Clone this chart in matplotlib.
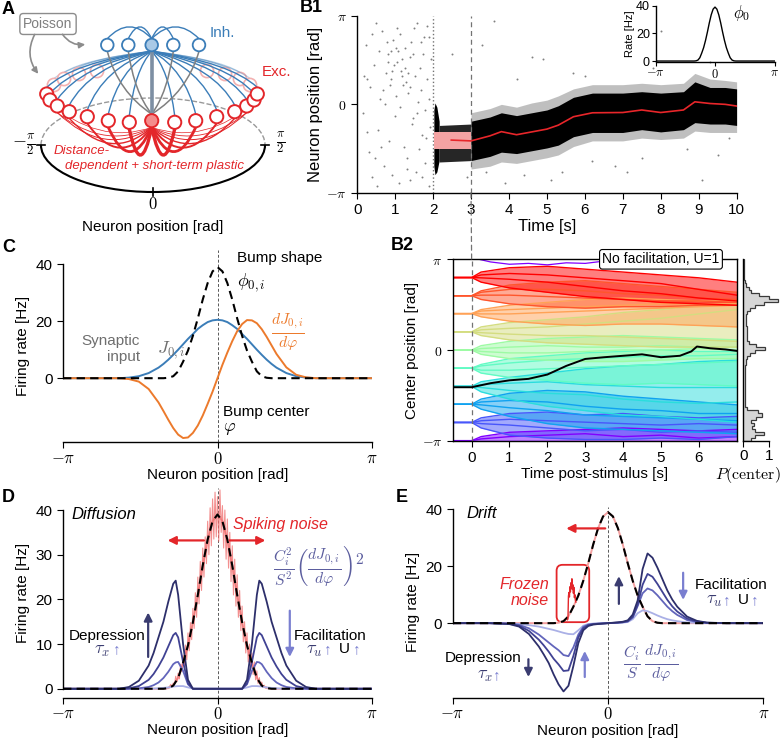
import numpy as np
import matplotlib.pyplot as plt
from matplotlib.patches import Circle, Arc, FancyBboxPatch, Rectangle, PathPatch, ConnectionPatch
from matplotlib.path import Path

plt.rcParams['font.family'] = ['Liberation Sans', 'DejaVu Sans']
plt.rcParams['mathtext.fontset'] = 'cm'
plt.rcParams['font.size'] = 11
plt.rcParams['axes.linewidth'] = 1.0
plt.rcParams['xtick.major.size'] = 4
plt.rcParams['ytick.major.size'] = 4

PI = np.pi
RED = '#e3262a'
BLUE = '#3b7db8'
ORANGE = '#ec7a2c'
PINK = '#f4a0a0'
SLATE = '#5b5d9e'
NAVY = '#2d2f6b'
LAV = '#7a7fd0'

# ---------------- data ----------------
# panel A: node positions of the ring schematic (pixel units of panel A)
inh_x = [107.3, 128.3, 151.7, 173.3, 199.0]
inh_y = [45, 45, 45, 45, 45]
exc_x = [46.7, 50.0, 57.3, 69.3, 87.3, 108.3, 129.3, 151.7, 174.7, 195.7, 216.7, 234.7, 246.7, 254.0, 257.3]
exc_y = [94, 100, 106, 111.7, 116.7, 120.7, 122.3, 120.7, 122.3, 120.7, 116.7, 111.7, 106, 100, 94]
back_x = [54, 64, 79, 97, 207, 225, 240, 250]
back_y = [85, 79, 74, 71, 71, 74, 79, 85]

# B1 raster
bg_t = [0.15, 0.22, 0.3, 0.35, 0.4, 0.45, 0.5, 0.55, 0.6, 0.65, 0.7, 0.75, 0.8, 0.85, 0.9, 0.95, 1.0, 1.05,
        1.1, 1.15, 1.2, 1.25, 1.3, 1.35, 1.4, 1.45, 1.5, 1.55, 1.6, 1.65, 1.7, 1.75, 1.8, 1.85, 1.9, 1.95,
        0.18, 0.27, 0.38, 0.48, 0.58, 0.68, 0.78, 0.82, 0.88, 0.93, 0.98, 1.03, 1.08, 1.12, 1.18, 1.23, 1.28,
        1.33, 1.38, 1.43, 1.48, 1.53, 1.58, 1.63, 1.68, 1.73, 1.78, 1.83, 1.88, 1.93,
        0.25, 0.52, 0.73, 0.91, 1.06, 1.17, 1.32, 1.47, 1.67, 1.81, 0.62, 0.86, 1.01, 1.14, 1.26, 1.4, 1.57,
        1.72, 1.9,
        2.5, 2.9, 3.3, 3.6, 3.9, 4.2, 4.6, 4.9, 5.1, 5.4, 5.7, 6.2, 6.8, 7.1, 7.5, 8.0, 8.7, 9.1, 9.5, 9.8,
        3.4, 4.4, 6.0, 7.8, 9.3]
bg_pos = [-0.3, 2.1, -1.7, 0.6, -2.6, 1.4, 2.9, -0.9, 0.2, 2.6, -2.2, 1.1, 1.8, -1.3, 0.9, 2.3, -0.4, 1.5,
          -2.8, 1.2, 0.7, 2.0, -1.9, 0.4, 1.7, -0.7, 2.7, -2.4, 0.1, 1.3, -1.1, 2.4, -0.2, 0.9, -2.9, 1.6,
          1.0, -1.0, 2.5, -1.9, 1.9, 0.5, 2.2, 1.5, 1.9, -2.5, 1.4, 0.3, 1.9, 2.5, 1.6, -1.5, 0.8,
          1.1, -2.7, 2.2, -0.5, 1.0, 2.9, -1.6, 0.5, 1.8, -2.1, 2.8, 0.2, -0.8,
          0.9, -2.9, 0.0, 1.2, 2.7, 1.0, -2.3, 1.8, 2.2, -1.2, -1.5, 0.7, 2.0, -0.1, 1.3, 0.6, -0.3,
          -2.6, 2.4,
          1.8, -2.6, 2.1, 2.95, -2.8, 0.9, 1.7, 1.6, -2.7, -2.4, 1.1, -2.0, -2.2, -2.4, -1.9, 2.6, -1.6, -2.7,
          -1.8, -1.2,
          -2.4, -2.5, 1.0, 1.3, 1.5]
burst_t = [2.02, 2.05, 2.1, 2.16]
burst_top = [-0.2, 0.05, -0.1, -0.6]
burst_bot = [-2.2, -2.5, -2.4, -2.0]
delay_t = [2.16, 3.0]
delay_top = [-0.75, -0.7]
delay_bot = [-2.05, -2.0]
t_band = [3.0, 3.5, 3.8, 4.2, 4.6, 5.0, 5.3, 5.7, 6.2, 7.0, 7.5, 8.0, 8.6, 8.9, 9.3, 9.7, 10.0]
core_top = [-0.6, -0.45, -0.3, -0.4, -0.3, -0.2, -0.05, 0.25, 0.4, 0.4, 0.45, 0.4, 0.45, 0.8, 0.6, 0.6, 0.55]
core_bot = [-2.0, -1.85, -1.7, -1.75, -1.65, -1.55, -1.45, -1.15, -1.0, -1.0, -0.9, -0.98, -0.9, -0.65, -0.7, -0.7, -0.75]
halo_top = [-0.3, -0.15, 0.0, -0.1, 0.05, 0.15, 0.3, 0.55, 0.7, 0.7, 0.75, 0.7, 0.75, 1.1, 0.9, 0.85, 0.8]
halo_bot = [-2.3, -2.2, -2.05, -2.1, -2.0, -1.9, -1.8, -1.5, -1.3, -1.3, -1.2, -1.25, -1.2, -0.95, -1.0, -1.0, -1.0]
t_red = [2.48, 3.0, 3.5, 3.8, 4.2, 4.6, 5.0, 5.3, 5.7, 6.2, 7.0, 7.5, 8.0, 8.6, 8.9, 9.3, 9.7, 10.0]
red_pos = [-1.27, -1.30, -1.12, -0.97, -1.08, -0.98, -0.88, -0.74, -0.44, -0.30, -0.29, -0.20, -0.29, -0.20,
           0.09, 0.03, 0.0, -0.06]

# rate profiles on a common position grid (C, D, E, inset)
pos_c = [-3.14, -2.4, -2.0, -1.8, -1.6, -1.4, -1.2, -1.1, -1.0, -0.9, -0.8, -0.7, -0.6, -0.5, -0.4, -0.3,
         -0.2, -0.1, 0.0, 0.1, 0.2, 0.3, 0.4, 0.5, 0.6, 0.7, 0.8, 0.9, 1.0, 1.1, 1.2, 1.4, 1.6, 1.8, 2.0,
         2.4, 3.14]
bump = [0, 0, 0, 0, 0, 0, 0, 0, 0.15, 0.7, 2.4, 5.8, 9.7, 14.9, 21.0, 27.6, 33.4, 37.5, 39.0, 37.5, 33.4,
        27.6, 21.0, 14.9, 9.7, 5.8, 2.4, 0.7, 0.15, 0, 0, 0, 0, 0, 0, 0, 0]
syn_input = [0, 0, 0, 0.2, 0.7, 1.8, 3.7, 5.0, 6.5, 8.2, 10.0, 11.9, 13.8, 15.5, 17.3, 18.6, 19.7, 20.3,
             20.5, 20.3, 19.7, 18.6, 17.3, 15.5, 13.8, 11.9, 10.0, 8.2, 6.5, 5.0, 3.7, 1.8, 0.7, 0.2, 0, 0, 0]
d_input = [0, 0, 0, -0.3, -1.2, -3.8, -8.5, -11.5, -14.6, -17.5, -19.8, -21.0, -20.8, -19.2, -16.6, -13.1,
           -9.0, -4.7, 0, 4.7, 9.0, 13.0, 16.5, 19.0, 20.4, 20.3, 19.3, 17.2, 14.5, 11.5, 8.5, 3.8, 1.2, 0.3,
           0, 0, 0]

# D: diffusion
pos_d = [-3.14, -2.4, -2.0, -1.8, -1.6, -1.4, -1.3, -1.2, -1.1, -1.0, -0.9, -0.85, -0.8, -0.7, -0.6, -0.5,
         -0.4, 0.0, 0.4, 0.5, 0.6, 0.7, 0.8, 0.85, 0.9, 1.0, 1.1, 1.2, 1.3, 1.4, 1.6, 1.8, 2.0, 2.4, 3.14]
diff_dark = [0, 0, 0, 0.4, 1.8, 5.2, 8.0, 11.5, 15.0, 19.5, 23.5, 24.2, 21.0, 10.0, 2.0, 0, 0, 0, 0, 0,
             2.0, 10.0, 21.0, 24.2, 23.5, 19.5, 15.0, 11.5, 8.0, 5.2, 1.8, 0.4, 0, 0, 0]
diff_mid = [0, 0, 0, 0.1, 0.6, 2.0, 3.3, 5.0, 7.0, 9.5, 12.0, 12.5, 11.5, 6.0, 1.2, 0, 0, 0, 0, 0,
            1.2, 6.0, 11.5, 12.5, 12.0, 9.5, 7.0, 5.0, 3.3, 2.0, 0.6, 0.1, 0, 0, 0]
diff_light = [0, 0, 0, 0, 0.1, 0.4, 0.8, 1.4, 2.4, 3.8, 5.5, 5.9, 6.0, 4.0, 1.0, 0, 0, 0, 0, 0,
              1.0, 4.0, 6.0, 5.9, 5.5, 3.8, 2.4, 1.4, 0.8, 0.4, 0.1, 0, 0, 0, 0]
diff_faint = [0, 0, 0, 0, 0, 0, 0.05, 0.1, 0.2, 0.3, 0.5, 0.55, 0.6, 0.6, 0.3, 0.05, 0, 0, 0,
              0.05, 0.3, 0.6, 0.6, 0.55, 0.5, 0.3, 0.2, 0.1, 0.05, 0, 0, 0, 0, 0, 0]
noise_pos = np.round(np.arange(-1.0, 1.0001, 0.025), 3)
noise_rate = [0.3, 0.5, 1.0, 0.4, 1.3, 0.9, 2.8, 1.6, 3.5, 2.2,
              5.5, 3.8, 7.5, 5.0, 9.8, 6.5, 12.5, 8.5, 14.8, 11.0,
              18.0, 13.5, 21.5, 16.0, 25.0, 19.0, 28.5, 22.0, 31.5, 25.0,
              34.0, 28.0, 37.5, 30.0, 40.5, 32.0, 42.5, 33.5, 44.0, 34.0,
              43.0,
              33.0, 44.5, 35.0, 41.0, 31.5, 40.0, 29.0, 38.0, 27.0, 35.0,
              24.0, 32.0, 21.0, 29.0, 18.5, 25.5, 16.0, 22.0, 13.0, 18.5,
              10.5, 15.0, 8.0, 12.5, 6.0, 10.0, 4.5, 8.0, 3.2, 6.0,
              2.0, 4.0, 1.2, 2.5, 0.6, 1.5, 0.3, 0.8, 0.2, 0.4]

# E: drift
pos_e = [-3.14, -2.4, -2.0, -1.8, -1.6, -1.4, -1.3, -1.2, -1.1, -1.0, -0.9, -0.8, -0.7, -0.6, -0.5, -0.4,
         -0.3, -0.2, 0.0, 0.2, 0.3, 0.4, 0.5, 0.6, 0.7, 0.8, 0.9, 1.0, 1.1, 1.2, 1.3, 1.4, 1.6, 1.8, 2.0,
         2.4, 3.14]
drift_dark = [0, 0, -0.3, -1.2, -3.8, -8.2, -11.0, -14.0, -18.0, -21.5, -24.0, -22.0, -15.0, -7.0, -2.5,
              -1.0, -0.5, -0.3, 0, 0.3, 0.5, 1.0, 3.0, 8.0, 19.0, 24.5, 23.0, 19.5, 15.5, 11.5, 8.3, 5.8,
              2.3, 0.8, 0.2, 0, 0]
drift_mid = [0, 0, -0.2, -0.9, -2.7, -5.8, -7.8, -10.0, -12.5, -14.5, -16.8, -16.6, -11.5, -5.0, -1.8,
             -0.7, -0.35, -0.2, 0, 0.2, 0.35, 0.7, 2.2, 6.5, 13.5, 17.3, 16.3, 13.8, 11.0, 8.2, 5.9, 4.1,
             1.6, 0.6, 0.15, 0, 0]
drift_low = [0, 0, -0.15, -0.6, -1.8, -4.0, -5.4, -6.8, -8.2, -9.5, -11.2, -11.6, -8.5, -4.0, -1.3, -0.5,
             -0.25, -0.15, 0, 0.15, 0.3, 0.6, 2.0, 6.0, 10.5, 12.2, 11.5, 9.8, 7.8, 5.8, 4.2, 2.9, 1.1,
             0.4, 0.1, 0, 0]
drift_faint = [0, 0, -0.1, -0.3, -0.7, -1.2, -1.6, -2.0, -2.4, -2.9, -3.4, -3.8, -3.9, -2.5, -0.9, -0.3,
               -0.15, -0.1, 0, 0.1, 0.2, 0.4, 1.4, 3.5, 4.5, 4.2, 3.5, 2.7, 2.0, 1.4, 1.0, 0.7, 0.25, 0.1,
               0, 0, 0]
frozen_pos = [-0.82, -0.81, -0.80, -0.79, -0.78, -0.77, -0.76, -0.75, -0.74, -0.73, -0.72, -0.71, -0.70,
              -0.69, -0.68, -0.67, -0.66, -0.65]
frozen_rate = [1.2, 1.5, 9.5, 10.8, 9.2, 12.8, 11.0, 14.2, 12.4, 15.6, 11.8, 13.5, 10.5, 12.6, 9.0, 10.0,
               8.0, 7.4]

# B2: bump-center trajectories, grouped by initial position (lower edge .. upper edge)
t_traj = [-0.5, 0, 0.25, 1, 2, 3, 4, 5, 6, 7]
traj_groups = [
    [[-3.14] * 10,
     [-3.14, -3.14, -3.08, -3.0, -2.95, -2.9, -3.0, -2.95, -3.05, -3.0],
     [-3.14, -3.14, -3.0, -2.85, -2.8, -2.75, -2.7, -2.75, -2.8, -2.75]],
    [[-2.51, -2.51, -2.7, -2.95, -3.05, -3.1, -3.1, -3.05, -3.1, -3.0],
     [-2.51, -2.51, -2.55, -2.6, -2.7, -2.8, -2.75, -2.85, -2.8, -2.85],
     [-2.51, -2.51, -2.45, -2.4, -2.45, -2.5, -2.55, -2.6, -2.55, -2.6],
     [-2.51, -2.51, -2.35, -2.2, -2.15, -2.25, -2.2, -2.3, -2.35, -2.3]],
    [[-1.88, -1.88, -2.05, -2.3, -2.55, -2.7, -2.75, -2.8, -2.85, -2.9],
     [-1.88, -1.88, -1.9, -2.0, -2.1, -2.25, -2.3, -2.35, -2.4, -2.45],
     [-1.88, -1.88, -1.8, -1.75, -1.8, -1.95, -2.05, -2.1, -2.2, -2.2],
     [-1.88, -1.88, -1.7, -1.5, -1.4, -1.45, -1.6, -1.7, -1.8, -1.9]],
    [[-1.26, -1.26, -1.45, -1.7, -1.95, -2.1, -2.25, -2.3, -2.4, -2.5],
     [-1.26, -1.26, -1.3, -1.4, -1.5, -1.55, -1.7, -1.8, -1.85, -1.8],
     [-1.26, -1.26, -1.2, -1.15, -1.1, -1.2, -1.25, -1.3, -1.3, -1.3],
     [-1.26, -1.26, -1.1, -0.95, -0.8, -0.65, -0.55, -0.5, -0.4, -0.35]],
    [[-0.63, -0.63, -0.8, -0.95, -1.05, -1.15, -1.2, -1.15, -1.2, -1.25],
     [-0.63, -0.63, -0.7, -0.7, -0.65, -0.6, -0.55, -0.5, -0.45, -0.4],
     [-0.63, -0.63, -0.55, -0.45, -0.35, -0.3, -0.25, -0.2, -0.2, -0.15],
     [-0.63, -0.63, -0.5, -0.3, -0.2, -0.1, -0.05, 0.0, -0.05, -0.05]],
    [[0, 0, -0.15, -0.3, -0.35, -0.4, -0.4, -0.35, -0.3, -0.3],
     [0, 0, -0.05, -0.1, -0.1, -0.05, 0.0, 0.0, 0.05, 0.0],
     [0, 0, 0.05, 0.1, 0.15, 0.1, 0.1, 0.15, 0.1, 0.1],
     [0, 0, 0.15, 0.3, 0.4, 0.45, 0.5, 0.45, 0.4, 0.35]],
    [[0.63, 0.63, 0.5, 0.35, 0.25, 0.2, 0.15, 0.1, 0.1, 0.1],
     [0.63, 0.63, 0.6, 0.55, 0.5, 0.5, 0.45, 0.4, 0.35, 0.3],
     [0.63, 0.63, 0.7, 0.75, 0.8, 0.9, 1.0, 1.1, 1.25, 1.4],
     [0.63, 0.63, 0.8, 0.95, 1.05, 1.15, 1.3, 1.4, 1.55, 1.6]],
    [[1.26, 1.26, 1.15, 1.0, 0.9, 0.85, 0.9, 0.9, 0.85, 0.8],
     [1.26, 1.26, 1.25, 1.25, 1.3, 1.35, 1.4, 1.45, 1.5, 1.55],
     [1.26, 1.26, 1.35, 1.4, 1.45, 1.5, 1.55, 1.6, 1.6, 1.6],
     [1.26, 1.26, 1.4, 1.55, 1.65, 1.75, 1.8, 1.75, 1.7, 1.7]],
    [[1.88, 1.88, 1.75, 1.6, 1.5, 1.45, 1.5, 1.5, 1.55, 1.55],
     [1.88, 1.88, 1.9, 1.9, 1.85, 1.8, 1.75, 1.7, 1.7, 1.65],
     [1.88, 1.88, 2.0, 2.1, 2.1, 2.05, 1.95, 1.9, 1.8, 1.75],
     [1.88, 1.88, 2.05, 2.25, 2.35, 2.4, 2.3, 2.2, 2.1, 2.0]],
    [[2.51, 2.51, 2.35, 2.15, 2.0, 1.85, 1.75, 1.65, 1.6, 1.55],
     [2.51, 2.51, 2.5, 2.45, 2.35, 2.2, 2.05, 1.95, 1.8, 1.7],
     [2.51, 2.51, 2.6, 2.65, 2.6, 2.5, 2.4, 2.3, 2.1, 1.9],
     [2.51, 2.51, 2.7, 2.85, 2.9, 2.8, 2.7, 2.6, 2.5, 2.35]],
]
wrap_t = [0.2, 0.5, 1, 1.5, 2, 2.5, 3, 3.5, 4]
wrap_pos = [3.14, 3.05, 2.97, 3.0, 2.95, 3.02, 3.0, 3.08, 3.14]
t_black = [-0.5, 0, 0.5, 1, 1.5, 2, 2.5, 3, 3.5, 4, 4.5, 5, 5.5, 5.8, 5.95, 6.3, 6.7, 7]
black_pos = [-1.29, -1.29, -1.15, -1.05, -1.0, -0.85, -0.55, -0.31, -0.25, -0.2, -0.15, -0.25, -0.2, -0.05,
             0.12, 0.06, 0.02, -0.03]

# histogram of final centre positions (60 bins over [-pi, pi])
hist_p = [0.3, 0.45, 0.8, 0.45, 0.35, 0.4, 0.3, 0.5, 0.7, 0.55,
          0.15, 0.08, 0.06, 0.05, 0.06, 0.05, 0.07, 0.05, 0.06, 0.05,
          0.06, 0.05, 0.07, 0.06, 0.08, 0.1, 0.12, 0.15, 0.25, 0.45,
          0.82, 0.5, 0.2, 0.15, 0.14, 0.15, 0.13, 0.14, 0.12, 0.12,
          0.1, 0.1, 0.15, 0.25, 0.45, 0.8, 1.35, 1.0, 0.6, 0.3,
          0.2, 0.12, 0.05, 0.04, 0.03, 0.03, 0.02, 0.02, 0.02, 0.02]

# ---------------- figure ----------------
W, H = 781, 742
fig = plt.figure(figsize=(W / 100, H / 100), dpi=100)


def box(l, t, r, b):
    return [l / W, 1 - b / H, (r - l) / W, (b - t) / H]


def qcurve(ax, p0, ctrl, p1, **kw):
    path = Path([p0, ctrl, p1], [Path.MOVETO, Path.CURVE3, Path.CURVE3])
    ax.add_patch(PathPatch(path, fill=False, **kw))


def pi_ticks(ax, axis, size=11):
    lab = [r'$-\pi$', r'$0$', r'$\pi$']
    if axis == 'x':
        ax.set_xticks([-PI, 0, PI])
        ax.set_xticklabels(lab, fontsize=size)
    else:
        ax.set_yticks([-PI, 0, PI])
        ax.set_yticklabels(lab, fontsize=size)


def rate_axes(ax, ylim, yticks):
    ax.set_xlim(-PI, PI)
    ax.set_ylim(*ylim)
    ax.spines['top'].set_visible(False)
    ax.spines['right'].set_visible(False)
    ax.spines['left'].set_bounds(0, 40)
    ax.set_yticks(yticks)
    pi_ticks(ax, 'x', 12)
    ax.tick_params(axis='x', pad=2)
    ax.set_xlabel('Neuron position [rad]', labelpad=1)
    ax.set_ylabel('Firing rate [Hz]')
    ax.axvline(0, color='0.35', ls=(0, (3, 2)), lw=0.7, zorder=0)


# ---- A: network schematic ----
axA = fig.add_axes(box(0, 0, 300, 240))
axA.set_xlim(0, 300)
axA.set_ylim(240, 0)
axA.axis('off')
cx, cy, ea, eb = 153, 145, 224, 94
axA.add_patch(Arc((cx, cy), ea, eb, theta1=180, theta2=360, color='0.6', ls='--', lw=1, zorder=1))
axA.add_patch(Arc((cx, cy), ea, eb, theta1=0, theta2=180, color='black', lw=1.5, zorder=2))
axA.plot([cx - ea / 2 - 4, cx - ea / 2 + 4], [cy, cy], color='black', lw=1.2)
axA.plot([cx + ea / 2 - 4, cx + ea / 2 + 4], [cy, cy], color='black', lw=1.2)
axA.plot([cx, cx], [cy + eb / 2 - 4, cy + eb / 2 + 4], color='black', lw=1.2)
axA.text(24, 145, r'$-\frac{\pi}{2}$', ha='center', va='center', fontsize=13)
axA.text(281, 143, r'$\frac{\pi}{2}$', ha='center', va='center', fontsize=13)
axA.text(cx, 204, r'$0$', ha='center', va='center', fontsize=12)
axA.text(cx, 227, 'Neuron position [rad]', ha='center', va='center', fontsize=11)

hx, hy = inh_x[2], inh_y[2]
ex0, ey0 = exc_x[7], exc_y[7]
r_i, r_e = 6.3, 6.6
for x, y in zip(back_x, back_y):
    qcurve(axA, (hx, hy + r_i), (x + 0.25 * (hx - x), 52 + 0.25 * (y - 52)), (x, y - r_e),
           color=BLUE, lw=0.9, alpha=0.35, zorder=2)
    axA.add_patch(Circle((x, y), r_e, fc='white', ec='#f3b0b0', lw=1.2, zorder=2))
for x, y in zip(exc_x, exc_y):
    if x == ex0:
        continue
    qcurve(axA, (hx, hy + r_i), (x + 0.25 * (hx - x), 52 + 0.25 * (y - 52)), (x, y - r_e),
           color=BLUE, lw=1.0, zorder=3)
for x in inh_x:
    if x == hx:
        continue
    qcurve(axA, (hx, hy - r_i), ((hx + x) / 2, 15), (x, hy - r_i), color=BLUE, lw=1.0, zorder=3)
    qcurve(axA, (x, hy + r_i), (x + 0.25 * (hx - x), 92), (ex0, ey0 - r_e), color='#808080', lw=1.1, zorder=3)
axA.plot([hx, ex0], [hy + r_i, ey0 - r_e], color='#7d8fa3', lw=2.6, zorder=3)
widths = [2.4, 2.0, 1.4, 1.0, 0.7, 0.6, 0.5]
for i, (x, y) in enumerate(zip(exc_x, exc_y)):
    d = abs(i - 7)
    if d == 0:
        continue
    qcurve(axA, (ex0, ey0 + r_e), ((ex0 + x) / 2, 188 - 6 * d), (x, y + r_e), color=RED,
           lw=widths[d - 1], zorder=3)
for i, (x, y) in enumerate(zip(exc_x, exc_y)):
    fc = '#f48c8c' if i == 7 else 'white'
    axA.add_patch(Circle((x, y), r_e, fc=fc, ec=RED, lw=1.4, zorder=5))
for i, (x, y) in enumerate(zip(inh_x, inh_y)):
    fc = '#a9c9e6' if i == 2 else 'white'
    axA.add_patch(Circle((x, y), r_i, fc=fc, ec=BLUE, lw=1.3, zorder=5))
axA.text(210, 33, 'Inh.', color=BLUE, fontsize=11, va='center')
axA.text(262, 72, 'Exc.', color=RED, fontsize=11, va='center')
axA.text(48, 24, 'Poisson', ha='center', va='center', color='#7f7f7f', fontsize=10,
         bbox=dict(boxstyle='round,pad=0.25', fc='white', ec='#8c8c8c', lw=1))
axA.annotate('', xy=(88, 44), xytext=(61, 32),
             arrowprops=dict(arrowstyle='-|>', color='#8c8c8c', lw=1.2, mutation_scale=9,
                             connectionstyle='arc3,rad=0.35'))
axA.annotate('', xy=(40, 76), xytext=(36, 32),
             arrowprops=dict(arrowstyle='-|>', color='#8c8c8c', lw=1.2, mutation_scale=9,
                             connectionstyle='arc3,rad=0.35'))
axA.text(54, 151, 'Distance-', color=RED, style='italic', fontsize=9.5, va='center', zorder=6)
axA.text(65, 166, 'dependent + short-term plastic', color=RED, style='italic', fontsize=9.5, va='center',
         zorder=6)

# ---- B1: raster ----
axB1 = fig.add_axes(box(357.2, 16, 736.6, 192.7))
axB1.set_xlim(0, 10)
axB1.set_ylim(-PI, PI)
axB1.spines['top'].set_visible(False)
axB1.spines['right'].set_visible(False)
axB1.scatter(bg_t, bg_pos, s=2, color='0.5', lw=0)
axB1.fill_between(burst_t, burst_bot, burst_top, color='black', lw=0)
axB1.fill_between(delay_t, delay_bot, delay_top, color='0.15', lw=0)
axB1.fill_between(t_band, halo_bot, halo_top, color='0.55', alpha=0.55, lw=0)
axB1.fill_between(t_band, core_bot, core_top, color='black', lw=0)
axB1.add_patch(Rectangle((2.03, -1.59), 0.97, 0.59, color='#f4a3a3', lw=0, zorder=3))
axB1.plot(t_red, red_pos, color='#e8262a', lw=1.2, zorder=4)
axB1.axvline(2.0, color='0.45', ls=':', lw=1)
axB1.axvline(3.0, color='0.45', ls=(0, (4, 3)), lw=0.9)
axB1.set_xticks(range(11))
pi_ticks(axB1, 'y', 10)
axB1.set_xlabel('Time [s]', fontsize=12, labelpad=1)
axB1.set_ylabel('Neuron position [rad]', fontsize=12, labelpad=2)

axI = fig.add_axes(box(655.5, 5, 774.5, 62))
axI.set_xlim(-PI, PI)
axI.set_ylim(-0.7, 40.5)
axI.spines['top'].set_visible(False)
axI.spines['right'].set_visible(False)
axI.spines['left'].set_bounds(0, 40)
axI.patch.set_alpha(0)
axI.plot(pos_c, bump, color='black', lw=1)
axI.set_yticks([0, 20, 40])
axI.tick_params(labelsize=9, length=3, pad=1)
pi_ticks(axI, 'x', 9)
axI.set_ylabel('Rate [Hz]', fontsize=8, labelpad=1)
axI.text(0.95, 31, r'$\phi_0$', fontsize=12)

# ---- B2: trajectories ----
axB2 = fig.add_axes(box(452.7, 259.3, 736.7, 440.7))
axB2.set_xlim(-0.5, 7.0)
axB2.set_ylim(-PI, PI)
for k, grp in enumerate(traj_groups):
    col = plt.cm.rainbow(k / 9)
    axB2.fill_between(t_traj, grp[0], grp[-1], color=col, alpha=0.5, lw=0)
    for tr in grp:
        axB2.plot(t_traj, tr, color=col, lw=1.0)
axB2.plot(wrap_t, wrap_pos, color=plt.cm.rainbow(0.0), lw=0.9)
axB2.plot(t_black, black_pos, color='black', lw=1.4, zorder=5)
axB2.axvline(0, color='0.45', ls=(0, (4, 3)), lw=0.9)
axB2.set_xticks(range(7))
pi_ticks(axB2, 'y', 10)
axB2.set_xlabel('Time post-stimulus [s]', labelpad=1)
axB2.set_ylabel('Center position [rad]', labelpad=2)
axB2.text(5.0, PI, 'No facilitation, U=1', ha='center', va='center', fontsize=10, zorder=10,
          bbox=dict(boxstyle='round,pad=0.2', fc='white', ec='black', lw=0.8))
fig.add_artist(ConnectionPatch(xyA=(3, -PI), coordsA=axB1.transData, xyB=(0, PI), coordsB=axB2.transData,
                               color='0.45', ls=(0, (4, 3)), lw=0.9))

axH = fig.add_axes(box(743.3, 259.3, 781, 440.7))
edges = np.linspace(-PI, PI, len(hist_p) + 1)
axH.stairs(hist_p, edges, orientation='horizontal', fill=True, color='#d6d6d6')
axH.stairs(hist_p, edges, orientation='horizontal', color='#3a3a3a', lw=0.9)
axH.set_xlim(0, 1.45)
axH.set_ylim(-PI, PI)
axH.spines['top'].set_visible(False)
axH.spines['right'].set_visible(False)
axH.spines['bottom'].set_bounds(0, 1)
axH.set_yticks([])
axH.set_xticks([0, 1])
axH.tick_params(labelsize=11, pad=2)
axH.patch.set_alpha(0)
fig.text(748 / W, 1 - 475 / H, r'$P(\mathrm{center})$', ha='center', va='center', fontsize=11.5)

# ---- C: bump shape and input ----
axC = fig.add_axes(box(63, 250, 372, 442.3))
rate_axes(axC, (-22.5, 45), [0, 20, 40])
axC.plot(pos_c, syn_input, color=BLUE, lw=1.4)
axC.plot(pos_c, d_input, color=ORANGE, lw=1.4)
axC.plot(pos_c, bump, color='black', lw=1.5, ls=(0, (4, 2.5)))
axC.text(-1.58, 10.3, 'Synaptic\ninput', color='#6e6e6e', ha='right', va='center', multialignment='right')
axC.text(-1.23, 9.9, r'$J_{0,i}$', color='#6e6e6e', ha='left', va='center', fontsize=13)
axC.text(0.39, 42.2, 'Bump shape', ha='left', va='center')
axC.text(0.39, 33.5, r'$\phi_{0,i}$', ha='left', va='center', fontsize=13)
axC.text(0.11, -11.7, 'Bump center', ha='left', va='center')
axC.text(0.11, -17.5, r'$\varphi$', ha='left', va='center', fontsize=13)
axC.text(1.43, 16, r'$\frac{dJ_{0,i}}{d\varphi}$', color=ORANGE, ha='center', va='center', fontsize=16)

# ---- D: diffusion ----
axD = fig.add_axes(box(63, 487.7, 372, 697.7))
rate_axes(axD, (-2, 45), [0, 10, 20, 30, 40])
axD.plot(pos_c, bump, color=PINK, lw=1.4)
axD.plot(noise_pos, noise_rate, color='#f06b6b', lw=0.8, alpha=0.75)
for vals, col in zip([diff_faint, diff_light, diff_mid, diff_dark], ['#aab0e6', '#6265bb', '#404293', NAVY]):
    axD.plot(pos_d, vals, color=col, lw=1.3)
axD.plot(pos_c, bump, color='black', lw=1.5, ls=(0, (4, 2.5)))
akw = dict(arrowstyle='-|>', lw=1.6, mutation_scale=12)
axD.annotate('', xy=(-1.07, 33.2), xytext=(-0.22, 33.2), arrowprops=dict(color=RED, **akw))
axD.annotate('', xy=(1.03, 33.2), xytext=(0.19, 33.2), arrowprops=dict(color=RED, **akw))
axD.text(0.32, 36.7, 'Spiking noise', color=RED, style='italic', ha='left', va='center', fontsize=11.5)
axD.text(-2.96, 38.9, 'Diffusion', style='italic', ha='left', va='center', fontsize=12)
axD.text(2.05, 27.3, r'$\frac{C_i^2}{S^2}\left(\frac{dJ_{0,i}}{d\varphi}\right)^2$', color=SLATE,
         ha='center', va='center', fontsize=16)
axD.annotate('', xy=(-1.41, 17.7), xytext=(-1.41, 6.5), arrowprops=dict(color='#3a3c70', **akw))
axD.annotate('', xy=(1.47, 6.5), xytext=(1.47, 18.1), arrowprops=dict(color=LAV, **akw))
axD.text(-2.24, 11.9, 'Depression', ha='center', va='center')
axD.text(-2.34, 8.6, r'$\tau_x$', ha='center', va='center', fontsize=13, color='#3a3c70')
axD.text(-2.05, 8.8, '↑', ha='center', va='center', color=LAV)
axD.text(2.29, 11.9, 'Facilitation', ha='center', va='center')
axD.text(1.98, 8.6, r'$\tau_u$', ha='center', va='center', fontsize=13, color='#3a3c70')
axD.text(2.25, 8.8, '↑', ha='center', va='center', color=LAV)
axD.text(2.59, 8.8, 'U', ha='center', va='center')
axD.text(2.83, 8.8, '↑', ha='center', va='center', color=LAV)

# ---- E: drift ----
axE = fig.add_axes(box(452.7, 506.5, 763.3, 698))
rate_axes(axE, (-26.3, 41), [0, 20, 40])
axE.plot(pos_c, bump, color=PINK, lw=1.4)
for vals, col in zip([drift_faint, drift_low, drift_mid, drift_dark], ['#aab0e6', '#6265bb', '#404293', NAVY]):
    axE.plot(pos_e, vals, color=col, lw=1.3)
axE.plot(pos_c, bump, color='black', lw=1.5, ls=(0, (4, 2.5)))
axE.plot(frozen_pos, frozen_rate, color=RED, lw=1)
axE.add_patch(FancyBboxPatch((-1.04, 0.35), 0.66, 20.15, boxstyle='round,pad=0,rounding_size=0.12',
                             mutation_aspect=17.3, fc='none', ec=RED, lw=1.3))
axE.text(-1.19, 10.8, 'Frozen\nnoise', color=RED, style='italic', ha='right', va='center',
         multialignment='right', fontsize=11.5, linespacing=1.1)
axE.annotate('', xy=(-0.9, 33.3), xytext=(0.0, 33.3), arrowprops=dict(color=RED, **akw))
axE.text(-2.86, 38.6, 'Drift', style='italic', ha='left', va='center', fontsize=12)
axE.annotate('', xy=(0.22, 17.5), xytext=(0.22, 5.8), arrowprops=dict(color='#3a3c70', **akw))
axE.annotate('', xy=(1.52, 7.2), xytext=(1.52, 18.7), arrowprops=dict(color=LAV, **akw))
axE.annotate('', xy=(-1.61, -19.9), xytext=(-1.61, -11.7), arrowprops=dict(color='#3a3c70', **akw))
axE.annotate('', xy=(-0.47, -8.8), xytext=(-0.47, -19.9), arrowprops=dict(color=LAV, **akw))
axE.text(2.5, 13.4, 'Facilitation', ha='center', va='center')
axE.text(2.15, 8.0, r'$\tau_u$', ha='center', va='center', fontsize=13, color='#3a3c70')
axE.text(2.4, 8.2, '↑', ha='center', va='center', color=LAV)
axE.text(2.73, 8.2, 'U', ha='center', va='center')
axE.text(2.97, 8.2, '↑', ha='center', va='center', color=LAV)
axE.text(-2.53, -12.3, 'Depression', ha='center', va='center')
axE.text(-2.49, -18.4, r'$\tau_x$', ha='center', va='center', fontsize=13, color='#3a3c70')
axE.text(-2.25, -18.2, '↑', ha='center', va='center', color=LAV)
axE.text(0.87, -14, r'$\frac{C_i}{S}\,\frac{dJ_{0,i}}{d\varphi}$', color=SLATE, ha='center', va='center',
         fontsize=16)

# panel letters
for lab, x, y in [('A', 2, 9), ('B1', 300, 8), ('B2', 391, 245), ('C', 2, 247), ('D', 2, 497), ('E', 396, 497)]:
    fig.text(x / W, 1 - y / H, lab, fontsize=13, fontweight='bold', ha='left', va='center')

fig.savefig('out.png', dpi=100)
